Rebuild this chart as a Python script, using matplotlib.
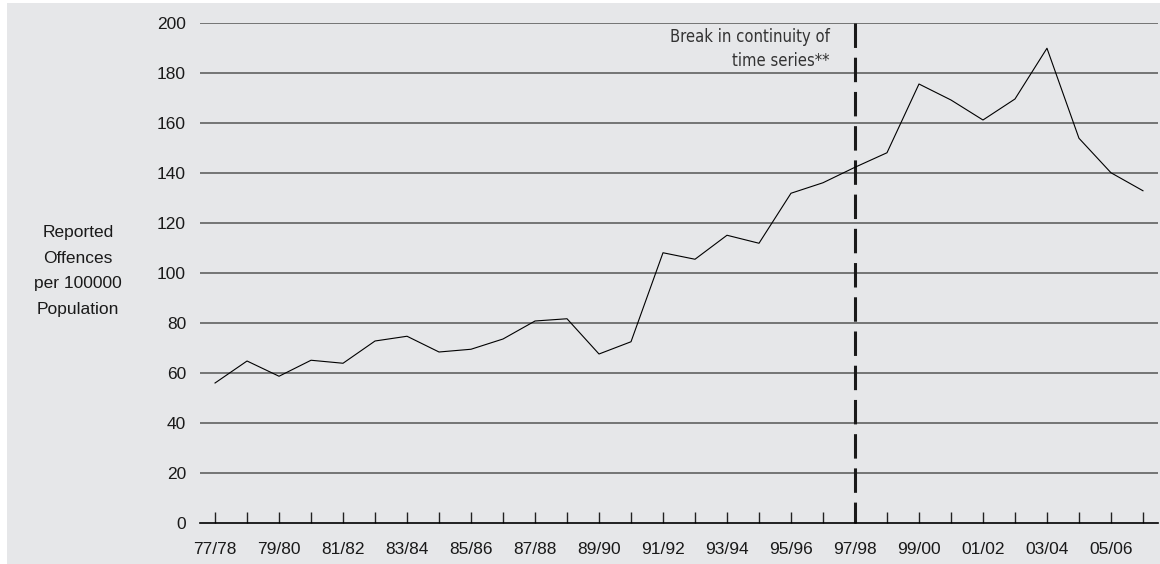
import matplotlib
matplotlib.use('Agg')
import matplotlib.pyplot as plt
from matplotlib.patches import Rectangle

# financial years, 77/78 .. 06/07
periods = ['77/78', '78/79', '79/80', '80/81', '81/82', '82/83', '83/84', '84/85',
           '85/86', '86/87', '87/88', '88/89', '89/90', '90/91', '91/92', '92/93',
           '93/94', '94/95', '95/96', '96/97', '97/98', '98/99', '99/00', '00/01',
           '01/02', '02/03', '03/04', '04/05', '05/06', '06/07']
offences = [56, 64.8, 58.7, 65.1, 63.9, 72.8, 74.7, 68.4, 69.5, 73.6,
            80.8, 81.7, 67.6, 72.5, 108.1, 105.5, 115.1, 111.9, 131.9, 136.1,
            142.3, 148.1, 175.6, 169.2, 161.2, 169.6, 189.9, 153.9, 140.1, 132.9]
yticks = [0, 20, 40, 60, 80, 100, 120, 140, 160, 180, 200]
break_period = '97/98'
break_note = 'Break in continuity of\ntime series**'
ylabel = 'Reported\nOffences\nper 100000\nPopulation'

bg = '#e6e7e9'
plt.rcParams['font.family'] = ['Liberation Sans', 'DejaVu Sans']

fig = plt.figure(figsize=(11.6, 5.64), dpi=100)
fig.add_artist(Rectangle((7 / 1160, 0), 1, 1 - 3 / 564, transform=fig.transFigure,
                         facecolor=bg, edgecolor='none', zorder=-10))

ax = fig.add_axes([200 / 1160, 1 - 523 / 564, 958 / 1160, 500 / 564])
ax.set_facecolor('none')

x = list(range(len(periods)))
ax.plot(x, offences, color='black', lw=0.8, zorder=3)

# horizontal grid
for v in yticks[1:]:
    ax.axhline(v, color='#555555', lw=1.1, zorder=1)

# break marker
bx = periods.index(break_period)
ax.plot([bx, bx], [200, 0], color='#1a1a1a', lw=2.2, dashes=(8, 3.2), zorder=2,
        clip_on=False)
ax.text(bx - 0.8, 197.8, break_note, ha='right', va='top', fontsize=11.9,
        color='#333333', linespacing=1.4, family='DejaVu Sans', stretch='condensed')

ax.set_xlim(-0.47, 29.47)
ax.set_ylim(0, 200)
ax.set_yticks(yticks)
ax.set_xticks(x)
ax.set_xticklabels([p if i % 2 == 0 else '' for i, p in enumerate(periods)])

for s in ['top', 'right', 'left']:
    ax.spines[s].set_visible(False)
ax.spines['bottom'].set_color('black')
ax.spines['bottom'].set_linewidth(1.2)

ax.tick_params(axis='x', direction='in', length=8, width=1, color='#222222',
               pad=14, labelsize=12.5, labelcolor='#1a1a1a')
ax.tick_params(axis='y', length=0, pad=10, labelsize=12.5, labelcolor='#1a1a1a')

fig.text(78 / 1160, 1 - 271 / 564, ylabel, ha='center', va='center', fontsize=12.5,
         color='#1a1a1a', linespacing=1.88)

fig.savefig('out.png', dpi=100)
